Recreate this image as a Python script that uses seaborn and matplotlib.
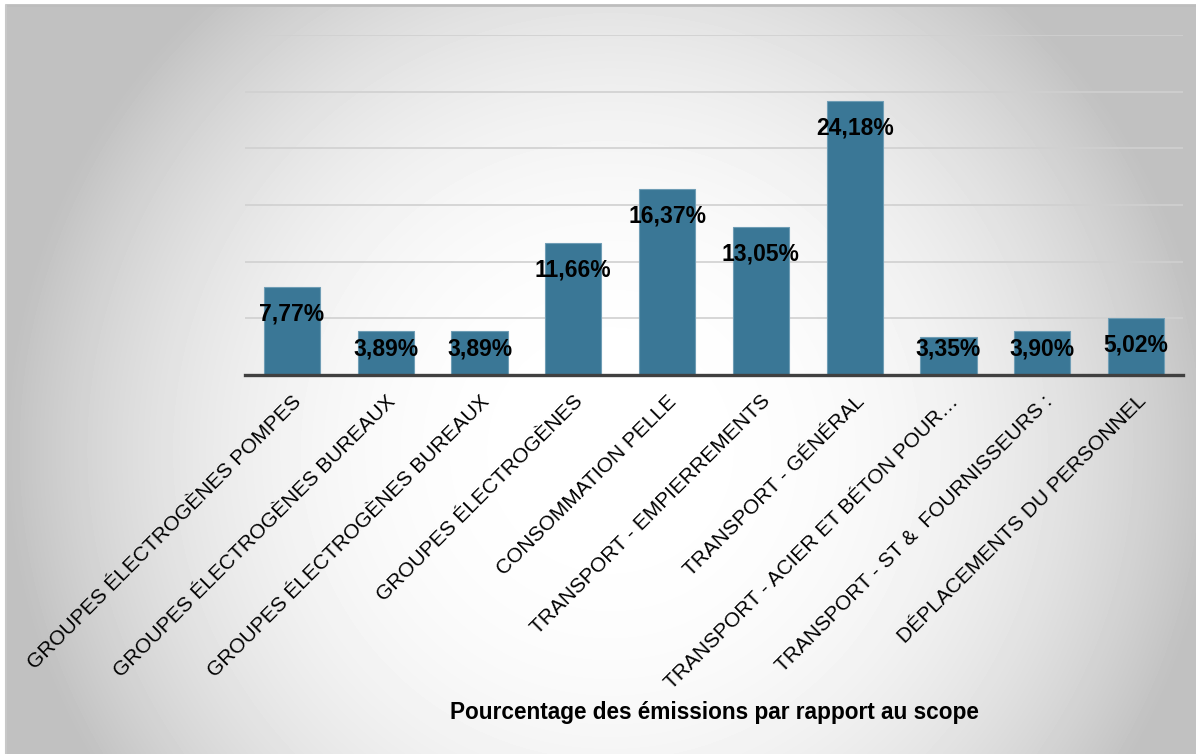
import numpy as np
import matplotlib
matplotlib.use("Agg")
import matplotlib.pyplot as plt
import seaborn as sns

# data
categories = [
    "GROUPES ÉLECTROGÈNES POMPES",
    "GROUPES ÉLECTROGÈNES BUREAUX",
    "GROUPES ÉLECTROGÈNES BUREAUX",
    "GROUPES ÉLECTROGÈNES",
    "CONSOMMATION PELLE",
    "TRANSPORT - EMPIERREMENTS",
    "TRANSPORT - GÉNÉRAL",
    "TRANSPORT - ACIER ET BÉTON POUR…",
    "TRANSPORT - ST &  FOURNISSEURS :",
    "DÉPLACEMENTS DU PERSONNEL",
]
values = [7.77, 3.89, 3.89, 11.66, 16.37, 13.05, 24.18, 3.35, 3.90, 5.02]
value_labels = ["7,77%", "3,89%", "3,89%", "11,66%", "16,37%",
                "13,05%", "24,18%", "3,35%", "3,90%", "5,02%"]
x_title = "Pourcentage des émissions par rapport au scope"

sns.set_style("white")
plt.rcParams['font.family'] = ['Liberation Sans', 'DejaVu Sans']

W, H = 1196, 754
fig = plt.figure(figsize=(W / 100, H / 100), dpi=100)
fig.patch.set_facecolor("white")

# radial grey gradient background (the chart frame)
bg = fig.add_axes([6 / W, 0, 1 - 6 / W, 1 - 5 / H])
bg.set_zorder(-5)
yy, xx = np.mgrid[5:H, 6:W]
r = np.hypot(xx - 610, yy - 450) / 600.0
shade = np.clip(1 - 0.24 * r ** 2.6, 0.755, 1.0)
bg.imshow(shade, cmap="gray", vmin=0, vmax=1, aspect="auto",
          extent=[0, 1, 0, 1], interpolation="bilinear")
bg.axis("off")
fig.add_artist(plt.Line2D([6 / W, 1], [1 - 5 / H, 1 - 5 / H],
                          transform=fig.transFigure, color="#bdbdbd", lw=2))
fig.add_artist(plt.Line2D([6 / W, 6 / W], [0, 1 - 5 / H],
                          transform=fig.transFigure, color="#c8c8c8", lw=1.5))

# main plot
ax = fig.add_axes([245 / W, (H - 375) / H, 938 / W, 340 / H])
ax.patch.set_alpha(0)
positions = list(range(len(values)))
sns.barplot(x=positions, y=values, color="#3a7796", width=0.6,
            edgecolor="#6f9db5", linewidth=0.8, saturation=1, ax=ax, zorder=3)

ax.set_ylim(0, 30)
ax.set_xlim(-0.5, len(values) - 0.5)
ax.set_yticks(np.arange(0, 31, 5))
ax.set_yticklabels([])
ax.tick_params(axis="y", length=0)
ax.yaxis.grid(True, color="#d0d0d0", lw=1.2, zorder=0)
ax.set_axisbelow(True)
for s in ["left", "right", "top"]:
    ax.spines[s].set_visible(False)
ax.spines["bottom"].set_color("#404040")
ax.spines["bottom"].set_linewidth(2.4)
ax.spines["bottom"].set_zorder(4)

# value labels: inside end, kept above the base
for i, (v, lab) in enumerate(zip(values, value_labels)):
    ax.text(i, max(v - 2.38, 2.29), lab, ha="center", va="center",
            fontsize=16.5, fontweight="bold", color="black", zorder=5)

ax.set_xticks(positions)
ax.set_xticklabels(categories, rotation=45, ha="right",
                   rotation_mode="anchor", fontsize=15, color="black")
ax.tick_params(axis="x", length=0, pad=12)
ax.set_xlabel("")
ax.set_ylabel("")

fig.text(714 / W, 1 - 712 / H, x_title, ha="center", va="center",
         fontsize=16.3, fontweight="bold", color="black")

fig.savefig("out.png", dpi=100)
